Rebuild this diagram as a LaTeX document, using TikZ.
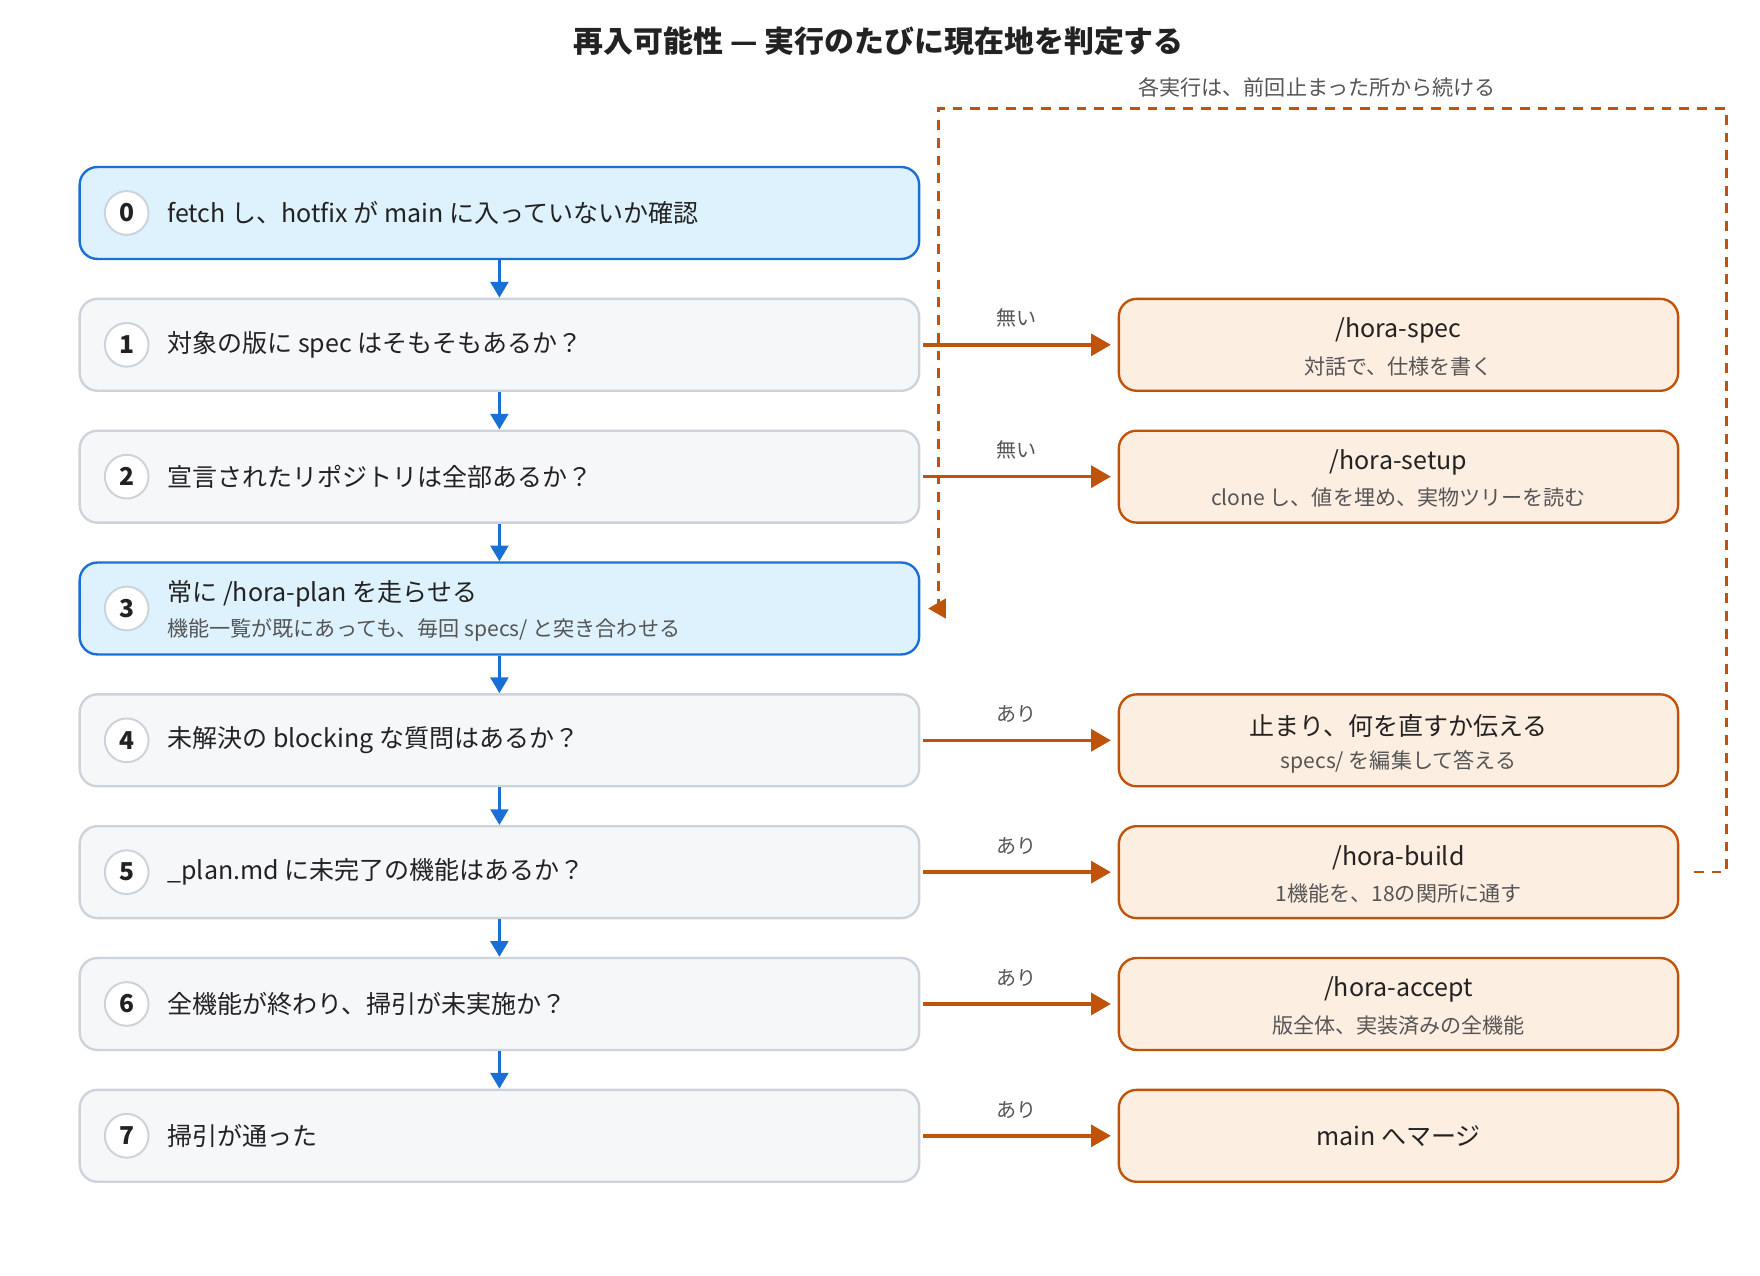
\documentclass[tikz,border=0pt]{standalone}
\usepackage{fontspec}
\setmainfont{Noto Sans CJK JP}
\usepackage{tikz}
\usetikzlibrary{positioning, arrows.meta, calc}
\definecolor{stepblue}{HTML}{1A6FD6}
\definecolor{stepbluefill}{HTML}{DDF2FC}
\definecolor{stepgray}{HTML}{CCD3DB}
\definecolor{stepgrayfill}{HTML}{F6F7F9}
\definecolor{actorange}{HTML}{C0530A}
\definecolor{actfill}{HTML}{FDEEE2}
\definecolor{inktext}{HTML}{222222}
\definecolor{subtext}{HTML}{555555}
\tikzset{
    flowstep/.style={draw=stepgray, fill=stepgrayfill, line width=1.2pt, rounded corners=9pt,
        minimum width=14.98cm, minimum height=1.64cm},
    keystep/.style={flowstep, draw=stepblue, fill=stepbluefill},
    action/.style={draw=actorange, fill=actfill, line width=1.2pt, rounded corners=9pt,
        minimum width=9.98cm, minimum height=1.64cm},
    num/.style={circle, draw=stepgray, fill=white, line width=1pt, minimum size=0.78cm,
        inner sep=0pt, font=\fontsize{12.5}{14}\selectfont\bfseries, text=inktext},
    steptext/.style={anchor=west, font=\fontsize{12.7}{15}\selectfont, text=inktext, inner sep=0pt},
    stepsub/.style={anchor=west, font=\fontsize{10.7}{13}\selectfont, text=subtext, inner sep=0pt},
    acttitle/.style={font=\fontsize{12.7}{15}\selectfont, text=inktext, inner sep=0pt},
    actsub/.style={font=\fontsize{10.7}{13}\selectfont, text=subtext, inner sep=0pt},
    down/.style={-{Triangle[length=8pt,width=9pt]}, draw=stepblue, line width=1.6pt},
    yes/.style={-{Triangle[length=10pt,width=11pt]}, draw=actorange, line width=1.8pt},
    edgelabel/.style={font=\fontsize{10.2}{12}\selectfont, text=subtext, inner sep=0pt},
}
\begin{document}
\begin{tikzpicture}[x=0.02cm, y=-0.02cm]
    \useasboundingbox (0,0) rectangle (1570,1138);
    \node[font=\fontsize{15.2}{18}\selectfont\bfseries, text=inktext] (title) at (784,37) {再入可能性 — 実行のたびに現在地を判定する};

    % left column: steps
    \node[keystep]  (s0) at (445.5,190) {};
    \node[flowstep] (s1) at (445.5,307.6) {};
    \node[flowstep] (s2) at (445.5,425.2) {};
    \node[keystep]  (s3) at (445.5,542.8) {};
    \node[flowstep] (s4) at (445.5,660.4) {};
    \node[flowstep] (s5) at (445.5,778) {};
    \node[flowstep] (s6) at (445.5,895.6) {};
    \node[flowstep] (s7) at (445.5,1013.2) {};

    \foreach \i in {0,...,7} {
        \node[num] (n\i) at ($(s\i.west)+(43,0)$) {\i};
    }
    \node[steptext] (t0) at ($(s0.west)+(79,0)$) {fetch し、hotfix が main に入っていないか確認};
    \node[steptext] (t1) at ($(s1.west)+(79,0)$) {対象の版に spec はそもそもあるか？};
    \node[steptext] (t2) at ($(s2.west)+(79,0)$) {宣言されたリポジトリは全部あるか？};
    \node[steptext] (t3) at ($(s3.west)+(79,-13)$) {常に /hora-plan を走らせる};
    \node[stepsub]  (u3) at ($(s3.west)+(79,19)$) {機能一覧が既にあっても、毎回 specs/ と突き合わせる};
    \node[steptext] (t4) at ($(s4.west)+(79,0)$) {未解決の blocking な質問はあるか？};
    \node[steptext] (t5) at ($(s5.west)+(79,0)$) {\_plan.md に未完了の機能はあるか？};
    \node[steptext] (t6) at ($(s6.west)+(79,0)$) {全機能が終わり、掃引が未実施か？};
    \node[steptext] (t7) at ($(s7.west)+(79,0)$) {掃引が通った};

    \foreach \a/\b in {0/1,1/2,2/3,3/4,4/5,5/6,6/7} {
        \draw[down] (s\a.south) -- (s\b.north);
    }

    % right column: actions
    \node[action] (a1) at (1247.5,307.6) {};
    \node[action] (a2) at (1247.5,425.2) {};
    \node[action] (a4) at (1247.5,660.4) {};
    \node[action] (a5) at (1247.5,778) {};
    \node[action] (a6) at (1247.5,895.6) {};
    \node[action] (a7) at (1247.5,1013.2) {};

    \node[acttitle] at ($(a1)+(0,-13)$) {/hora-spec};
    \node[actsub]   at ($(a1)+(0,19)$) {対話で、仕様を書く};
    \node[acttitle] at ($(a2)+(0,-13)$) {/hora-setup};
    \node[actsub]   at ($(a2)+(0,19)$) {clone し、値を埋め、実物ツリーを読む};
    \node[acttitle] at ($(a4)+(0,-13)$) {止まり、何を直すか伝える};
    \node[actsub]   at ($(a4)+(0,19)$) {specs/ を編集して答える};
    \node[acttitle] at ($(a5)+(0,-13)$) {/hora-build};
    \node[actsub]   at ($(a5)+(0,19)$) {1機能を、18の関所に通す};
    \node[acttitle] at ($(a6)+(0,-13)$) {/hora-accept};
    \node[actsub]   at ($(a6)+(0,19)$) {版全体、実装済みの全機能};
    \node[acttitle] at (a7) {main へマージ};

    \foreach \i/\lab in {1/無い,2/無い,4/あり,5/あり,6/あり,7/あり} {
        \draw[yes] ($(s\i.east)+(2,0)$) -- ($(a\i.west)+(-6,0)$)
            node[edgelabel, midway, above=8pt] {\lab};
    }

    % loop back to step 3
    \coordinate (loopa) at ($(a5.east)+(13,0)$);
    \coordinate (loopb) at (1540,778);
    \coordinate (loopc) at (1540,97);
    \coordinate (loopd) at (837,97);
    \coordinate (loope) at (837,542.8);
    \draw[actorange, line width=1.3pt, dash pattern=on 5pt off 4pt]
        (loopa) -- (loopb) -- (loopc) -- (loopd) -- (loope);
    \draw[-{Triangle[length=9pt,width=10pt]}, actorange, line width=1.3pt] (loope) -- ($(s3.east)+(7,0)$);
    \node[edgelabel, font=\fontsize{10.7}{13}\selectfont] (looplab) at (1175,78) {各実行は、前回止まった所から続ける};
\end{tikzpicture}
\end{document}
